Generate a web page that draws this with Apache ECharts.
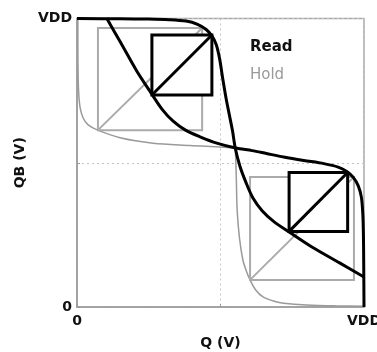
<!DOCTYPE html>
<html>
<head>
<meta charset="utf-8">
<script src="https://cdn.jsdelivr.net/npm/echarts@6/dist/echarts.min.js"></script>
<style>
html,body{margin:0;padding:0;background:#fff;}
#chart{width:377px;height:352px;}
</style>
</head>
<body>
<div id="chart"></div>
<script>
// Axis ticks (normalised voltage, VDD = 1)
const tickValues = [0, 0.5, 1];
const tickLabels = ['0', '', 'VDD'];

// Read butterfly: QB = f(Q) (A) and its mirror (B), [Q, QB]
const readA = [[0,1],[0.15,0.999],[0.25,0.998],[0.32,0.996],[0.38,0.991],[0.42,0.98],[0.45,0.962],[0.47,0.94],[0.485,0.91],[0.497,0.86],[0.508,0.79],[0.52,0.72],[0.532,0.66],[0.542,0.61],[0.551,0.553],[0.568,0.487],[0.589,0.431],[0.613,0.378],[0.645,0.334],[0.686,0.296],[0.739,0.26],[0.82,0.207],[0.915,0.153],[1,0.104]];
const readB = [[0.104,1],[0.153,0.915],[0.207,0.82],[0.26,0.739],[0.296,0.686],[0.334,0.645],[0.378,0.613],[0.431,0.589],[0.487,0.568],[0.553,0.551],[0.61,0.542],[0.66,0.532],[0.72,0.52],[0.79,0.508],[0.86,0.497],[0.91,0.485],[0.94,0.47],[0.962,0.45],[0.98,0.42],[0.991,0.38],[0.996,0.32],[0.998,0.25],[0.999,0.15],[1,0]];

// Hold butterfly curves, [Q, QB]
const holdC = [[0.003,1],[0.003,0.9],[0.004,0.8],[0.006,0.74],[0.011,0.69],[0.021,0.656],[0.038,0.632],[0.07,0.614],[0.15,0.587],[0.265,0.568],[0.394,0.56],[0.553,0.551],[0.61,0.542],[0.66,0.532],[0.72,0.52],[0.79,0.508],[0.86,0.497],[0.91,0.485],[0.94,0.47],[0.962,0.45],[0.98,0.42],[0.991,0.38],[0.996,0.32],[0.998,0.25],[0.999,0.15],[1,0]];
const holdD = [[0,1],[0.15,0.999],[0.25,0.998],[0.32,0.996],[0.38,0.991],[0.42,0.98],[0.45,0.962],[0.47,0.94],[0.485,0.91],[0.497,0.86],[0.508,0.79],[0.52,0.72],[0.532,0.66],[0.542,0.61],[0.551,0.553],[0.555,0.45],[0.558,0.336],[0.566,0.24],[0.578,0.163],[0.59,0.125],[0.603,0.094],[0.622,0.06],[0.648,0.035],[0.69,0.019],[0.72,0.013],[0.8,0.007],[0.9,0.004],[1,0.003]];

// Noise-margin squares: [Q1, QB1, Q2, QB2] (diagonal from corner 1 to corner 2)
const readSquares = [[0.261,0.735,0.470,0.943],[0.739,0.262,0.943,0.466]];
const holdSquares = [[0.073,0.613,0.436,0.967],[0.603,0.094,0.965,0.451]];

const FONT = 'DejaVu Sans';

function labelFor(v){
  for (let i = 0; i < tickValues.length; i++) if (Math.abs(tickValues[i]-v) < 1e-6) return tickLabels[i];
  return '';
}

function squareRenderer(stroke, width, fill){
  return function(params, api){
    const p1 = api.coord([api.value(0), api.value(1)]);
    const p2 = api.coord([api.value(2), api.value(3)]);
    return {
      type: 'group',
      children: [
        {type:'rect', shape:{x:Math.min(p1[0],p2[0]), y:Math.min(p1[1],p2[1]), width:Math.abs(p2[0]-p1[0]), height:Math.abs(p2[1]-p1[1])},
         style:{fill: fill, stroke: stroke, lineWidth: width}},
        {type:'line', shape:{x1:p1[0], y1:p1[1], x2:p2[0], y2:p2[1]}, style:{stroke: stroke, lineWidth: width}}
      ]
    };
  };
}

const axisCommon = {
  type: 'value', min: 0, max: 1, interval: 0.5,
  axisLine: {show: true, lineStyle: {color: '#9a9a9a', width: 1.5}},
  axisTick: {show: true, inside: true, length: 3, lineStyle: {color: '#9a9a9a'}},
  splitLine: {show: true, lineStyle: {type: [2, 3], color: '#c4c4c4', width: 1}},
  axisLabel: {formatter: labelFor, fontFamily: FONT, fontWeight: 'bold', fontSize: 14, color: '#111'},
  nameLocation: 'middle',
  nameTextStyle: {fontFamily: FONT, fontWeight: 'bold', fontSize: 14, color: '#111'}
};

const chart = echarts.init(document.getElementById('chart'), null, {renderer: 'canvas'});
chart.setOption({
  animation: false,
  backgroundColor: '#fff',
  grid: {left: 77, right: 13, top: 18.5, bottom: 45, show: true, borderColor: '#a8a8a8', borderWidth: 1.5,
         containLabel: false, outerBoundsMode: 'none'},
  xAxis: Object.assign({}, axisCommon, {name: 'Q (V)', nameGap: 29,
    axisLabel: Object.assign({}, axisCommon.axisLabel, {margin: 7})}),
  yAxis: Object.assign({}, axisCommon, {name: 'QB (V)', nameGap: 48,
    axisLabel: Object.assign({}, axisCommon.axisLabel, {margin: 5})}),
  graphic: [
    {type:'text', left: 250, top: 40, style:{text:'Read', font:'bold 15px "DejaVu Sans"', fill:'#111'}},
    {type:'text', left: 250, top: 68, style:{text:'Hold', font:'15px "DejaVu Sans"', fill:'#9a9a9a'}}
  ],
  series: [
    {name:'Hold', type:'line', data: holdC, symbol:'none', smooth: 0.3, clip: false, z: 2,
     lineStyle:{color:'#9a9a9a', width:1.5}},
    {name:'Hold', type:'line', data: holdD, symbol:'none', smooth: 0.3, clip: false, z: 2,
     lineStyle:{color:'#9a9a9a', width:1.5}},
    {name:'Hold SNM', type:'custom', data: holdSquares, encode:{x:[0,2], y:[1,3]}, z: 3,
     renderItem: squareRenderer('#ababab', 2, 'none')},
    {name:'Read SNM', type:'custom', data: readSquares, encode:{x:[0,2], y:[1,3]}, z: 4,
     renderItem: squareRenderer('#000', 3, '#fff')},
    {name:'Read', type:'line', data: readA, symbol:'none', smooth: 0.3, clip: false, z: 5,
     lineStyle:{color:'#000', width:3}},
    {name:'Read', type:'line', data: readB, symbol:'none', smooth: 0.3, clip: false, z: 5,
     lineStyle:{color:'#000', width:3}}
  ]
});
</script>
</body>
</html>
